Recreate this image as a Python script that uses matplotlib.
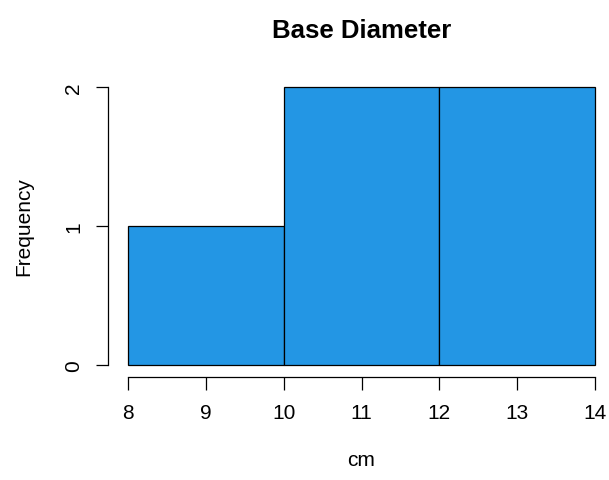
import matplotlib.pyplot as plt

# histogram data (bin edges and counts)
edges = [8, 10, 12, 14]
counts = [1, 2, 2]
xticks = [8, 9, 10, 11, 12, 13, 14]
yticks = [0, 1, 2]

W, H = 609, 481
plt.rcParams['font.family'] = ['Liberation Sans', 'DejaVu Sans']

fig = plt.figure(figsize=(W / 100, H / 100), dpi=100)
# plot area in pixels: x 8..14 -> 128..595, y 0..2 -> 366..88
left, right, top, bottom = 128, 595, 88, 366
ax = fig.add_axes([left / W, 1 - bottom / H, (right - left) / W, (bottom - top) / H])

widths = [edges[i + 1] - edges[i] for i in range(len(counts))]
ax.bar(edges[:-1], counts, width=widths, align='edge', color='#2396E4',
       edgecolor='black', linewidth=0.9, clip_on=False)

ax.set_xlim(8, 14)
ax.set_ylim(0, 2)
ax.set_xticks(xticks)
ax.set_yticks(yticks)

for s in ['top', 'right']:
    ax.spines[s].set_visible(False)
# offsets are in points (0.72 pt per px at 100 dpi)
ax.spines['left'].set_position(('outward', 14.4))
ax.spines['bottom'].set_position(('outward', 8.6))
ax.spines['left'].set_bounds(0, 2)
ax.spines['bottom'].set_bounds(8, 14)
for s in ['left', 'bottom']:
    ax.spines[s].set_linewidth(0.9)

ax.tick_params(length=9, width=0.9, labelsize=15)
ax.tick_params(axis='x', pad=10)
ax.tick_params(axis='y', pad=9, labelrotation=90)
for lab in ax.get_yticklabels():
    lab.set_va('center')

ax.set_xlabel('cm', fontsize=15, labelpad=20)
ax.set_ylabel('Frequency', fontsize=15, labelpad=22)
ax.set_title('Base Diameter', fontsize=18.5, fontweight='bold', pad=36)

fig.savefig('out.png', dpi=100)
